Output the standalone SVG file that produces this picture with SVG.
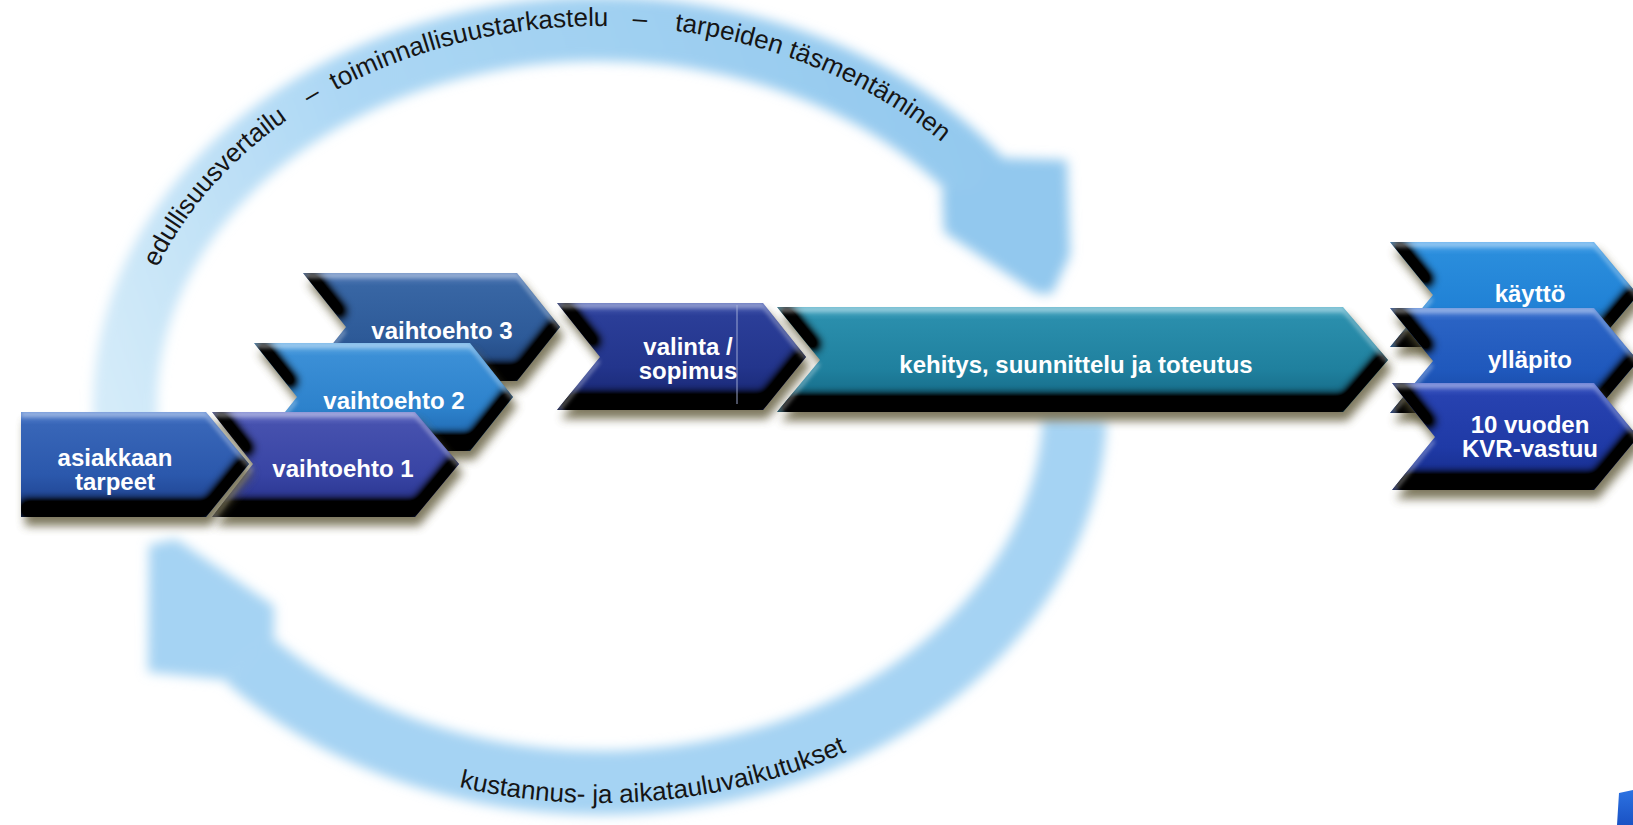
<svg xmlns="http://www.w3.org/2000/svg" xmlns:xlink="http://www.w3.org/1999/xlink" width="1633" height="825" viewBox="0 0 1633 825">
<defs>
<style>
.lbl{font-family:"Liberation Sans",Arial,sans-serif;font-weight:bold;font-size:24px;fill:#ffffff;text-anchor:middle}
.ring{font-family:"Liberation Sans",Arial,sans-serif;font-size:26px;fill:#151515;text-anchor:middle}
.sh{fill:#5e5838;opacity:0.8;filter:url(#shadow)}
</style>
<filter id="soft" filterUnits="userSpaceOnUse" x="0" y="-60" width="1633" height="945">
<feGaussianBlur stdDeviation="6"/>
</filter>
<filter id="shadow" x="-10%" y="-20%" width="120%" height="150%">
<feGaussianBlur stdDeviation="5"/>
</filter>
<filter id="bevel" x="-5%" y="-10%" width="110%" height="120%" color-interpolation-filters="sRGB">
<feOffset in="SourceAlpha" dx="0" dy="-16" result="up"/>
<feComposite in="SourceAlpha" in2="up" operator="out" result="bot"/>
<feGaussianBlur in="bot" stdDeviation="5" result="botb"/>
<feComponentTransfer in="botb" result="botc"><feFuncA type="linear" slope="1.9"/></feComponentTransfer>
<feComposite in="botc" in2="SourceAlpha" operator="in" result="dark"/>
<feOffset in="SourceAlpha" dx="0" dy="5" result="down"/>
<feComposite in="SourceAlpha" in2="down" operator="out" result="topband"/>
<feGaussianBlur in="topband" stdDeviation="2" result="topb"/>
<feFlood flood-color="#ffffff" flood-opacity="0.45" result="white"/>
<feComposite in="white" in2="topb" operator="in" result="hl0"/>
<feComposite in="hl0" in2="SourceAlpha" operator="in" result="hl"/>
<feMerge><feMergeNode in="SourceGraphic"/><feMergeNode in="dark"/><feMergeNode in="hl"/></feMerge>
</filter>
<linearGradient id="ringTop" gradientUnits="userSpaceOnUse" x1="120" y1="430" x2="1000" y2="120">
<stop offset="0" stop-color="#d4ebf9"/>
<stop offset="0.35" stop-color="#acd7f4"/>
<stop offset="1" stop-color="#92c8ee"/>
</linearGradient>
<linearGradient id="gA" x1="0" y1="0" x2="0" y2="1"><stop offset="0" stop-color="#5a86d2"/><stop offset="0.12" stop-color="#3866b8"/><stop offset="0.6" stop-color="#2b58ac"/><stop offset="1" stop-color="#1a3a84"/></linearGradient>
<linearGradient id="gB" x1="0" y1="0" x2="0" y2="1"><stop offset="0" stop-color="#6f79cc"/><stop offset="0.12" stop-color="#4651ae"/><stop offset="0.6" stop-color="#3844a4"/><stop offset="1" stop-color="#232d84"/></linearGradient>
<linearGradient id="gC" x1="0" y1="0" x2="0" y2="1"><stop offset="0" stop-color="#63ace6"/><stop offset="0.12" stop-color="#3b8fd6"/><stop offset="0.6" stop-color="#2d82cc"/><stop offset="1" stop-color="#1b5fa8"/></linearGradient>
<linearGradient id="gD" x1="0" y1="0" x2="0" y2="1"><stop offset="0" stop-color="#5a80bc"/><stop offset="0.12" stop-color="#3866a4"/><stop offset="0.6" stop-color="#2d5a98"/><stop offset="1" stop-color="#1d3f76"/></linearGradient>
<linearGradient id="gE" x1="0" y1="0" x2="0" y2="1"><stop offset="0" stop-color="#4d60b4"/><stop offset="0.12" stop-color="#2b3e98"/><stop offset="0.6" stop-color="#23358c"/><stop offset="1" stop-color="#16236c"/></linearGradient>
<linearGradient id="gF" x1="0" y1="0" x2="0" y2="1"><stop offset="0" stop-color="#52aec8"/><stop offset="0.12" stop-color="#2a8eac"/><stop offset="0.6" stop-color="#1f809e"/><stop offset="1" stop-color="#12607c"/></linearGradient>
<linearGradient id="gG" x1="0" y1="0" x2="0" y2="1"><stop offset="0" stop-color="#52a6ec"/><stop offset="0.12" stop-color="#2a8ddc"/><stop offset="0.6" stop-color="#2182d6"/><stop offset="1" stop-color="#1664b4"/></linearGradient>
<linearGradient id="gH" x1="0" y1="0" x2="0" y2="1"><stop offset="0" stop-color="#5282d8"/><stop offset="0.12" stop-color="#2a63c4"/><stop offset="0.6" stop-color="#1f58bc"/><stop offset="1" stop-color="#15419a"/></linearGradient>
<linearGradient id="gI" x1="0" y1="0" x2="0" y2="1"><stop offset="0" stop-color="#4862cc"/><stop offset="0.12" stop-color="#2742b0"/><stop offset="0.6" stop-color="#1f3aa6"/><stop offset="1" stop-color="#142884"/></linearGradient>
<linearGradient id="gCorner" x1="0" y1="0" x2="0" y2="1"><stop offset="0" stop-color="#2c72e2"/><stop offset="1" stop-color="#1a52c4"/></linearGradient>
<path id="topPath" d="M 125 406 A 475 380 0 0 1 1075 406"/>
<path id="botPath" d="M 97 406 A 503 397 0 0 0 1103 406"/>
</defs>

<rect width="1633" height="825" fill="#ffffff"/>

<g id="connectors">
<g filter="url(#soft)">
<path d="M 127.6 445.4 A 475 377 0 0 1 984 184" fill="none" stroke="url(#ringTop)" stroke-width="64"/>
<polygon points="1000,158 1067,160 1070,255 1052,294 1036,293 944,232 942,190 975,190" fill="#92c8ee"/>
<path d="M 1074.7 419.2 A 475 377 0 0 1 247 658" fill="none" stroke="#a5d3f3" stroke-width="64"/>
<polygon points="227,680 148,672 149,545 176,539 274,606 274,637 267,636" fill="#a5d3f3"/>
</g>
<text class="ring"><textPath href="#topPath" xlink:href="#topPath" startOffset="243">edullisuusvertailu</textPath></text>
<text class="ring"><textPath href="#topPath" xlink:href="#topPath" startOffset="376">–</textPath></text>
<text class="ring"><textPath href="#topPath" xlink:href="#topPath" startOffset="540">toiminnallisuustarkastelu</textPath></text>
<text class="ring"><textPath href="#topPath" xlink:href="#topPath" startOffset="713">–</textPath></text>
<text class="ring"><textPath href="#topPath" xlink:href="#topPath" startOffset="895">tarpeiden täsmentäminen</textPath></text>
<text class="ring"><textPath href="#botPath" xlink:href="#botPath" startOffset="765">kustannus- ja aikatauluvaikutukset</textPath></text>
</g>

<g id="vaihtoehto3">
<polygon class="sh" points="303,273 517,273 560,327 517,381 303,381 346,327" transform="translate(4,9)"/>
<polygon fill="url(#gD)" filter="url(#bevel)" points="303,273 517,273 560,327 517,381 303,381 346,327"/>
<text class="lbl" x="442" y="339">vaihtoehto 3</text>
</g>

<g id="vaihtoehto2">
<polygon class="sh" points="254,343 470,343 513,397 470,451 254,451 297,397" transform="translate(4,9)"/>
<polygon fill="url(#gC)" filter="url(#bevel)" points="254,343 470,343 513,397 470,451 254,451 297,397"/>
<text class="lbl" x="394" y="409">vaihtoehto 2</text>
</g>

<g id="vaihtoehto1">
<polygon class="sh" points="212,412 415,412 459,464 415,517 212,517 253,464" transform="translate(4,9)"/>
<polygon fill="url(#gB)" filter="url(#bevel)" points="212,412 415,412 459,464 415,517 212,517 253,464"/>
<text class="lbl" x="343" y="477">vaihtoehto 1</text>
</g>

<g id="asiakkaan-tarpeet">
<polygon class="sh" points="21,412 206,412 249,464 206,517 21,517" transform="translate(4,9)"/>
<polygon fill="url(#gA)" filter="url(#bevel)" points="21,412 206,412 249,464 206,517 21,517"/>
<text class="lbl" x="115" y="466">asiakkaan</text>
<text class="lbl" x="115" y="490">tarpeet</text>
</g>

<g id="valinta-sopimus">
<polygon class="sh" points="557,303 763,303 806,357 763,410 557,410 600,357" transform="translate(4,9)"/>
<polygon fill="url(#gE)" filter="url(#bevel)" points="557,303 763,303 806,357 763,410 557,410 600,357"/>
<line x1="737" y1="305" x2="737" y2="404" stroke="#a9b3da" stroke-width="1.5" opacity="0.6"/>
<text class="lbl" x="688" y="355">valinta /</text>
<text class="lbl" x="688" y="379">sopimus</text>
</g>

<g id="kehitys">
<polygon class="sh" points="777,307 1343,307 1388,360 1343,412 777,412 820,360" transform="translate(4,9)"/>
<polygon fill="url(#gF)" filter="url(#bevel)" points="777,307 1343,307 1388,360 1343,412 777,412 820,360"/>
<text class="lbl" x="1076" y="373">kehitys, suunnittelu ja toteutus</text>
</g>

<g id="kaytto">
<polygon class="sh" points="1390,242 1594,242 1638,295 1594,347 1390,347 1433,295" transform="translate(4,9)"/>
<polygon fill="url(#gG)" filter="url(#bevel)" points="1390,242 1594,242 1638,295 1594,347 1390,347 1433,295"/>
<text class="lbl" x="1530" y="302">käyttö</text>
</g>

<g id="yllapito">
<polygon class="sh" points="1390,308 1594,308 1638,361 1594,413 1390,413 1433,361" transform="translate(4,9)"/>
<polygon fill="url(#gH)" filter="url(#bevel)" points="1390,308 1594,308 1638,361 1594,413 1390,413 1433,361"/>
<text class="lbl" x="1530" y="368">ylläpito</text>
</g>

<g id="kvr-vastuu">
<polygon class="sh" points="1392,383 1594,383 1638,437 1594,490 1392,490 1435,437" transform="translate(4,9)"/>
<polygon fill="url(#gI)" filter="url(#bevel)" points="1392,383 1594,383 1638,437 1594,490 1392,490 1435,437"/>
<text class="lbl" x="1530" y="433">10 vuoden</text>
<text class="lbl" x="1530" y="457">KVR-vastuu</text>
</g>

<g id="corner-mark">
<polygon points="1619,793 1633,790 1633,825 1617,825" fill="url(#gCorner)"/>
</g>
</svg>
